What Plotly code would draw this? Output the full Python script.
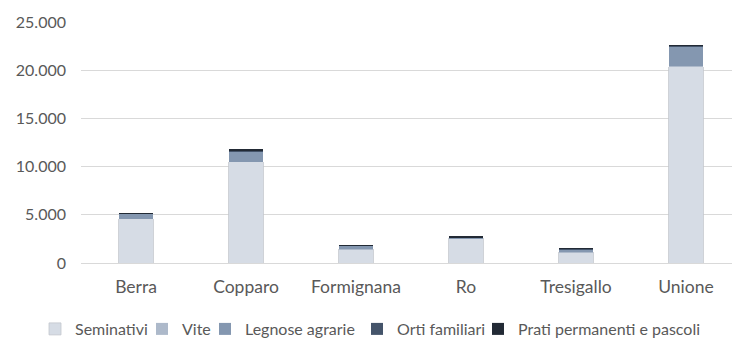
import plotly.graph_objects as go

# Superficie agricola per comune (ettari)
comuni = ["Berra", "Copparo", "Formignana", "Ro", "Tresigallo", "Unione"]
seminativi = [4580, 10480, 1450, 2580, 1120, 20340]
vite = [30, 40, 20, 10, 30, 130]
legnose_agrarie = [490, 1060, 300, 20, 290, 1970]
orti_familiari = [40, 130, 80, 80, 70, 140]
prati_pascoli = [10, 20, 10, 10, 10, 30]

y_ticks = [0, 5000, 10000, 15000, 20000, 25000]

series = [
    ("Seminativi", seminativi, "#d6dce5"),
    ("Vite", vite, "#adb9ca"),
    ("Legnose agrarie", legnose_agrarie, "#8497b0"),
    ("Orti familiari", orti_familiari, "#44546a"),
    ("Prati permanenti e pascoli", prati_pascoli, "#222a35"),
]

FONT = "Lato"
TEXT_COLOR = "#595959"
GRID = "#d9d9d9"

# left edge of each legend text (px) -> one legend box per series
legend_text_x = [75, 182, 245, 397, 518]
W, H = 732, 340

fig = go.Figure()
for i, (name, vals, col) in enumerate(series):
    lname = "legend" if i == 0 else f"legend{i + 1}"
    fig.add_trace(go.Bar(
        x=comuni, y=vals, name=name, width=0.31, showlegend=True,
        marker=dict(color=col,
                    line=dict(color="#c3c7cd", width=0.8 if i == 0 else 0)),
        legend=lname,
    ))

layout_legends = {}
for i, tx in enumerate(legend_text_x):
    lname = "legend" if i == 0 else f"legend{i + 1}"
    layout_legends[lname] = dict(
        xref="container", yref="container",
        x=(tx - 40) / W, y=(H - 329) / H,
        xanchor="left", yanchor="middle",
        orientation="h", itemwidth=30,
        bgcolor="rgba(0,0,0,0)", borderwidth=0,
        font=dict(family=FONT, size=16, color=TEXT_COLOR),
        itemclick=False, itemdoubleclick=False,
    )

plot_left = 81
n_visible = (W - plot_left) / 110.0

fig.update_layout(
    width=W, height=H,
    margin=dict(l=plot_left, r=0, t=22, b=77),
    paper_bgcolor="white", plot_bgcolor="white",
    barmode="stack",
    showlegend=True,
    separators=",.",
    font=dict(family=FONT, size=16, color=TEXT_COLOR),
    xaxis=dict(
        range=[-0.5, -0.5 + n_visible],
        showgrid=False, showline=False, zeroline=False,
        ticks="", ticklabelstandoff=11,
        tickfont=dict(family=FONT, size=17.5, color=TEXT_COLOR),
    ),
    yaxis=dict(
        range=[0, 25000], tickvals=y_ticks, tickformat=",.0f",
        showgrid=True, gridcolor=GRID, gridwidth=1.3,
        zeroline=True, zerolinecolor=GRID, zerolinewidth=1.3,
        showline=False, ticks="", ticklabelstandoff=14,
        tickfont=dict(family=FONT, size=16, color=TEXT_COLOR),
    ),
    **layout_legends,
)

fig.write_html("out.html")
